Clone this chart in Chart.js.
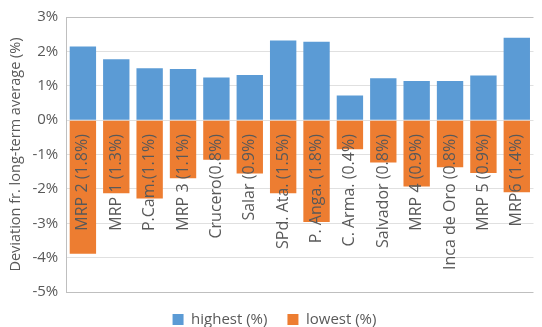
<!DOCTYPE html>
<html>
<head>
<meta charset="utf-8">
<script src="https://cdn.jsdelivr.net/npm/chart.js@4.4.1/dist/chart.umd.min.js"></script>
<style>
  html, body { margin: 0; padding: 0; background: #fff; }
  #wrap { width: 542px; height: 327px; }
</style>
</head>
<body>
<div id="wrap"><canvas id="c" width="542" height="327"></canvas></div>
<script>
const categories = ['MRP 2 (1.8%)', 'MRP 1 (1.3%)', 'P.Cam.(1.1%)', 'MRP 3 (1.1%)', 'Crucero(0.8%)',
  'Salar (0.9%)', 'SPd. Ata. (1.5%)', 'P. Anga. (1.8%)', 'C. Arma. (0.4%)', 'Salvador (0.8%)',
  'MRP 4 (0.9%)', 'Inca de Oro (0.8%)', 'MRP 5 (0.9%)', 'MRP6 (1.4%)'];
const highest = [2.14, 1.77, 1.51, 1.49, 1.24, 1.31, 2.32, 2.28, 0.72, 1.22, 1.14, 1.14, 1.30, 2.40];
const lowest = [-3.89, -2.13, -2.28, -1.69, -1.15, -1.55, -2.13, -2.96, -0.85, -1.23, -1.93, -1.37, -1.54, -2.10];
const yMin = -5, yMax = 3, yStep = 1;

const txt = '#595959';
const fontFam = '"Open Sans", Lato, sans-serif';

let ctx = document.getElementById('c').getContext('2d');
new Chart(ctx, {
  type: 'bar',
  data: {
    labels: categories,
    datasets: [
      { label: 'highest (%)', data: highest, backgroundColor: '#5b9bd5', barPercentage: 0.79, categoryPercentage: 1 },
      { label: 'lowest (%)', data: lowest, backgroundColor: '#ed7d31', barPercentage: 0.79, categoryPercentage: 1 }
    ]
  },
  options: {
    responsive: false,
    animation: false,
    layout: { padding: { top: 10, right: 0, left: 7, bottom: -10 } },
    plugins: {
      tooltip: { enabled: false },
      legend: {
        position: 'bottom',
        labels: { boxWidth: 11, boxHeight: 11, color: txt, font: { family: fontFam, size: 15 }, padding: 20 }
      }
    },
    scales: {
      x: {
        stacked: true,
        position: { y: 0 },
        grid: { display: false },
        border: { display: false },
        ticks: {
          z: 1,
          autoSkip: false, minRotation: 90, maxRotation: 90, padding: 6,
          color: txt, font: { family: fontFam, size: 16 }
        }
      },
      y: {
        stacked: true,
        min: yMin, max: yMax,
        ticks: {
          stepSize: yStep, color: txt, font: { family: fontFam, size: 15 }, padding: 8,
          callback: v => v + '%'
        },
        grid: {
          drawTicks: false,
          color: c => (c.tick && (c.tick.value === yMax || c.tick.value === yMin)) ? '#bfbfbf' : '#e0e0e0'
        },
        border: { display: true, color: '#bfbfbf' },
        title: {
          display: true, text: 'Deviation fr. long-term average (%)',
          color: txt, font: { family: fontFam, size: 14.5 }, padding: 0
        }
      }
    }
  }
});
</script>
</body>
</html>
